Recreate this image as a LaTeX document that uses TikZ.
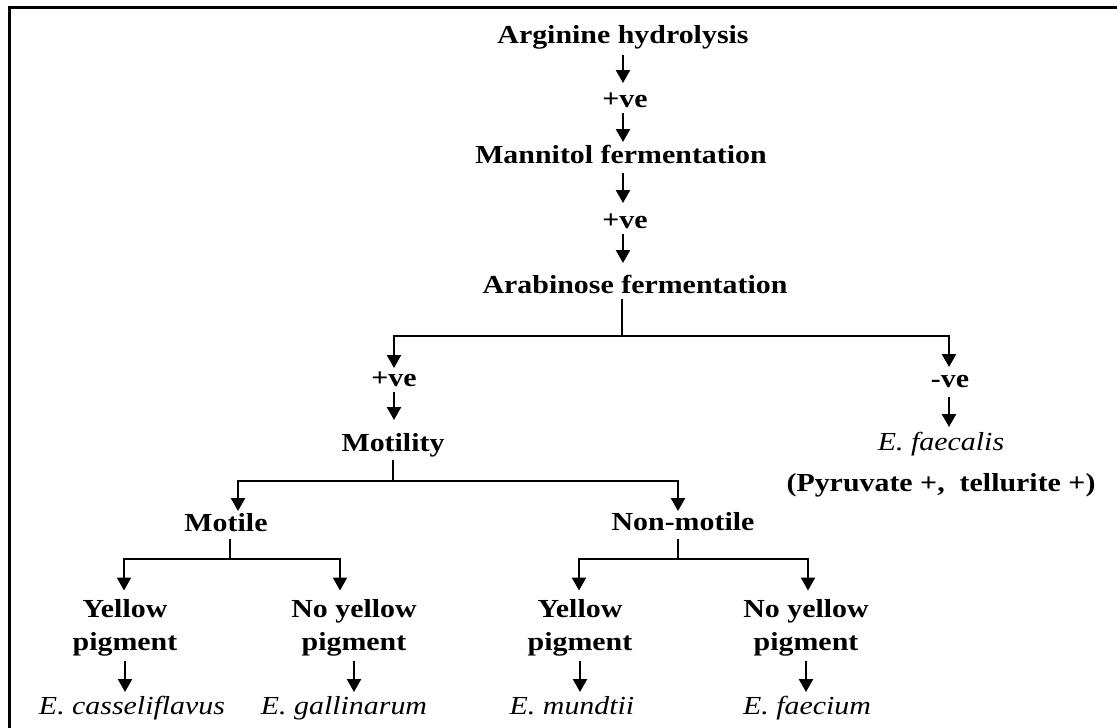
\documentclass[tikz,border=0pt]{standalone}
\usepackage{fontspec}
\setmainfont{Liberation Serif}[FakeStretch=1.15]
\usetikzlibrary{arrows.meta}
\newcommand\dfont{\fontsize{26}{33}\selectfont}
\begin{document}
\begin{tikzpicture}[x=1pt,y=-1pt,
  txt/.style={inner sep=0pt, outer sep=0pt, text height=17pt, text depth=6pt, anchor=base, font=\dfont\bfseries},
  sp/.style={txt, font=\dfont\itshape},
  two/.style={inner sep=0pt, outer sep=0pt, align=center, anchor=north, font=\dfont\bfseries},
  arr/.style={line width=2.4pt, -{Triangle[width=14pt,length=13pt]}},
  ln/.style={line width=2.4pt},
  bar/.style={line width=2.4pt, line cap=rect}]
\useasboundingbox (0,0) rectangle (1117,728);
\fill[white] (0,0) rectangle (1117,728);
\draw[line width=3pt] (9,728) -- (9,7) -- (1117,7);

% nodes
\node[txt] (arg) at (623,43) {Arginine hydrolysis};
\node[txt] (pv1) at (625,107) {+ve};
\node[txt] (man) at (621,163) {Mannitol fermentation};
\node[txt] (pv2) at (625,228) {+ve};
\node[txt] (arab) at (635,293) {Arabinose fermentation};
\coordinate (j0) at (622,336);
\coordinate (jl) at (394,336);
\coordinate (jr) at (949,336);
\node[txt] (pv3) at (394,386) {+ve};
\node[txt] (nv) at (950,387) {-ve};
\node[txt] (mot) at (393,451) {Motility};
\node[sp] (efs) at (941,450) {E. faecalis};
\node[txt] (pyr) at (941,491) {(Pyruvate +,\ \ tellurite +)};
\coordinate (j1) at (393,481);
\coordinate (j1l) at (238,481);
\coordinate (j1r) at (678,481);
\node[txt] (mtl) at (226,531) {Motile};
\node[txt] (nmt) at (683,530) {Non-motile};
\coordinate (j2) at (230,559);
\coordinate (j2l) at (124,559);
\coordinate (j2r) at (340,559);
\coordinate (j3) at (678,559);
\coordinate (j3l) at (579,559);
\coordinate (j3r) at (808,559);
\node[two] (y1) at (125,599.5) {Yellow\\pigment};
\node[two] (y2) at (354,599.5) {No yellow\\pigment};
\node[two] (y3) at (580,599.5) {Yellow\\pigment};
\node[two] (y4) at (806,599.5) {No yellow\\pigment};
\node[sp] (ec) at (132,714) {E. casseliflavus};
\node[sp] (eg) at (344,714) {E. gallinarum};
\node[sp] (em) at (572,714) {E. mundtii};
\node[sp] (ef) at (807,714) {E. faecium};

% connectors
\draw[arr, shorten <=6pt, shorten >=7pt] (arg.south) -- (arg.south |- pv1.north);
\draw[arr, shorten <=0pt, shorten >=4pt] (arg.south |- pv1.south) -- (arg.south |- man.north);
\draw[arr, shorten <=4pt, shorten >=8pt] (arg.south |- man.south) -- (arg.south |- pv2.north);
\draw[arr, shorten >=13pt] (arg.south |- pv2.south) -- (arg.south |- arab.north);
\draw[ln] (arab.south -| j0) -- (j0);
\draw[bar] (jl) -- (jr);
\draw[arr, shorten >=1pt] (jl) -- (jl |- pv3.north);
\draw[arr, shorten >=3pt] (jr) -- (jr |- nv.north);
\draw[arr, shorten >=14pt] (pv3.south) -- (pv3.south |- mot.north);
\draw[arr, shorten <=4pt, shorten >=6pt] (nv.south -| jr) -- (jr |- efs.north);
\draw[ln, shorten <=3pt] (mot.south) -- (j1);
\draw[bar] (j1l) -- (j1r);
\draw[arr, shorten >=3pt] (j1l) -- (j1l |- mtl.north);
\draw[arr, shorten >=2pt] (j1r) -- (j1r |- nmt.north);
\draw[ln, shorten <=2pt] (mtl.south -| j2) -- (j2);
\draw[bar] (j2l) -- (j2r);
\draw[arr, shorten >=9pt] (j2l) -- (j2l |- y1.north);
\draw[arr, shorten >=9pt] (j2r) -- (j2r |- y2.north);
\draw[ln, shorten <=3pt] (nmt.south -| j3) -- (j3);
\draw[bar] (j3l) -- (j3r);
\draw[arr, shorten >=9pt] (j3l) -- (j3l |- y3.north);
\draw[arr, shorten >=9pt] (j3r) -- (j3r |- y4.north);
\draw[arr, shorten <=5pt, shorten >=5pt] (y1.south) -- (y1.south |- ec.north);
\draw[arr, shorten <=5pt, shorten >=5pt] (y2.south) -- (y2.south |- eg.north);
\draw[arr, shorten <=5pt, shorten >=5pt] (y3.south) -- (y3.south |- em.north);
\draw[arr, shorten <=5pt, shorten >=5pt] (y4.south) -- (y4.south |- ef.north);
\end{tikzpicture}
\end{document}
